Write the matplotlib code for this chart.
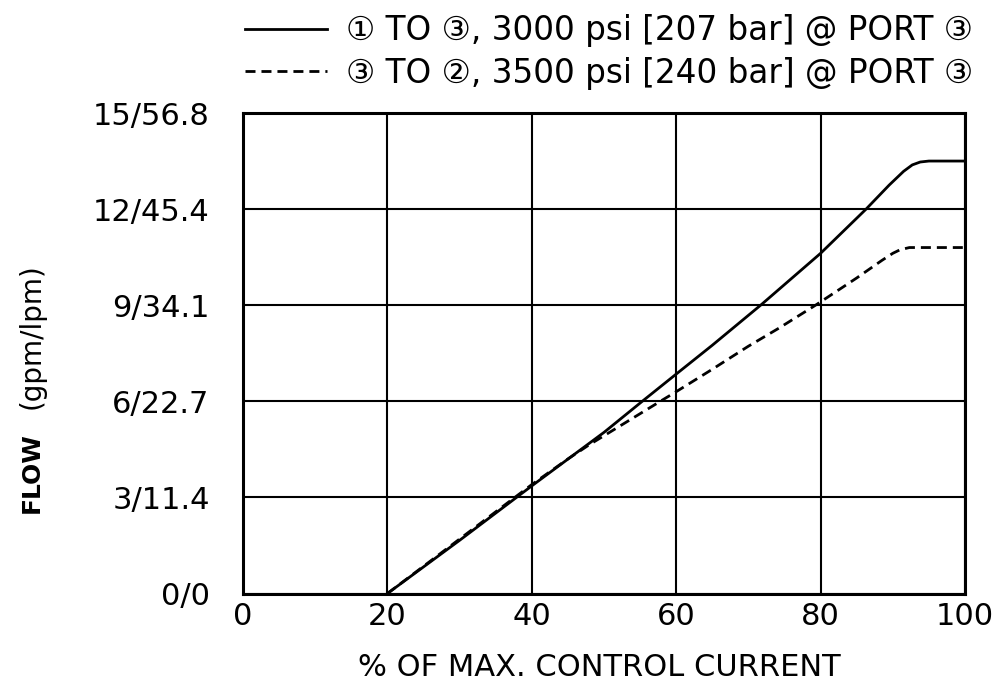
import matplotlib
matplotlib.use("Agg")
import matplotlib.pyplot as plt

plt.rcParams['font.family'] = ['DejaVu Sans', 'Noto Sans CJK JP']
plt.rcParams['lines.scale_dashes'] = False

# ---- data ----
pct_solid = [20, 30, 40, 50, 55.3, 60, 65, 71.8, 80, 86.3, 89.5, 91.5, 92.7, 93.8, 95, 100]
flow_solid = [0, 1.66, 3.36, 5.03, 6.0, 6.85, 7.75, 9.02, 10.62, 12.0, 12.75, 13.18, 13.38, 13.47, 13.5, 13.5]

pct_dash = [20, 30, 40, 45, 48, 52, 57.8, 60, 65, 70, 74.2, 79.3, 85, 88.5, 90, 91, 92.3, 100]
flow_dash = [0, 1.7, 3.4, 4.2, 4.65, 5.2, 6.0, 6.3, 7.0, 7.72, 8.28, 9.0, 9.85, 10.4, 10.62, 10.73, 10.8, 10.8]

x_ticks = [0, 20, 40, 60, 80, 100]
y_ticks = [0, 3, 6, 9, 12, 15]
y_tick_labels = ['0/0', '3/11.4', '6/22.7', '9/34.1', '12/45.4', '15/56.8']

label_solid = '\u2460 TO \u2462, 3000 psi [207 bar] @ PORT \u2462'
label_dash = '\u2462 TO \u2461, 3500 psi [240 bar] @ PORT \u2462'
x_label = '% OF MAX. CONTROL CURRENT'

# ---- figure ----
fig = plt.figure(figsize=(10.03, 6.87), dpi=100)
ax = fig.add_axes([243/1003, 1 - 593.5/687, (965-243)/1003, (593.5-113)/687])

ax.plot(pct_solid, flow_solid, color='black', lw=2.0, solid_joinstyle='round',
        label=label_solid)
ax.plot(pct_dash, flow_dash, color='black', lw=2.0, linestyle=(0, (7.2, 4.3)),
        label=label_dash)

ax.set_xlim(0, 100)
ax.set_ylim(0, 15)
ax.set_xticks(x_ticks)
ax.set_yticks(y_ticks)
ax.set_yticklabels(y_tick_labels)
ax.tick_params(axis='both', length=0, labelsize=22, colors='black')
ax.tick_params(axis='x', pad=6)
ax.tick_params(axis='y', pad=24)
ax.grid(True, color='black', lw=1.5)
ax.set_axisbelow(True)
for sp in ax.spines.values():
    sp.set_linewidth(2.2)
    sp.set_color('black')

fig.text(599/1003, 1 - 667/687, x_label, ha='center', va='center', fontsize=22)
fig.text(32/1003, 1 - 473/687, 'FLOW', rotation=90, ha='center', va='center',
         fontsize=18, fontweight='bold')
fig.text(32/1003, 1 - 336/687, '(gpm/lpm)', rotation=90, ha='center', va='center',
         fontsize=20)

fig.legend(loc='upper left', bbox_to_anchor=(245/1003, 1 - 14/687), frameon=False,
           fontsize=23.5, handlelength=2.5, handletextpad=0.6, labelspacing=0.3,
           borderpad=0, borderaxespad=0)

fig.savefig('out.png', dpi=100)
